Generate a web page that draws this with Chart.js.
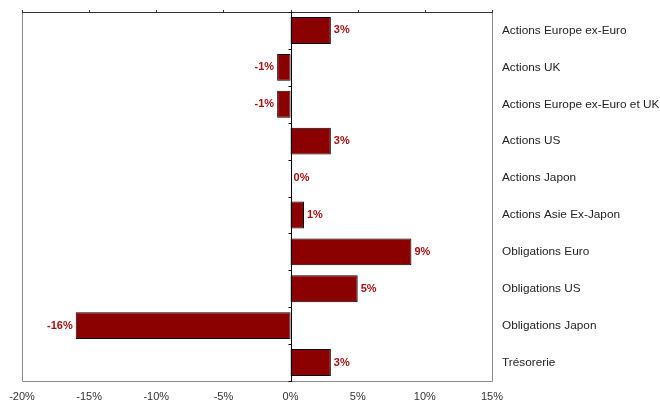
<!DOCTYPE html>
<html>
<head>
<meta charset="utf-8">
<script src="https://cdn.jsdelivr.net/npm/chart.js@4"></script>
<style>
  html, body { margin: 0; padding: 0; background: #fff; }
  #wrap { width: 660px; height: 406px; }
</style>
</head>
<body>
<div id="wrap"><canvas id="allocChart" width="660" height="406"></canvas></div>
<script>
const categories = [
  'Actions Europe ex-Euro',
  'Actions UK',
  'Actions Europe ex-Euro et UK',
  'Actions US',
  'Actions Japon',
  'Actions Asie Ex-Japon',
  'Obligations Euro',
  'Obligations US',
  'Obligations Japon',
  'Trésorerie'
];
const values = [3, -1, -1, 3, 0, 1, 9, 5, -16, 3];
const xTicks = [-20, -15, -10, -5, 0, 5, 10, 15];

// frame, zero line and small tick marks like the original
const frame = {
  id: 'frame',
  afterDatasetsDraw(chart) {
    const { ctx, chartArea: a, scales } = chart;
    const x = scales.x;
    ctx.save();
    ctx.lineWidth = 1;
    ctx.strokeStyle = '#8a8a8a';
    ctx.beginPath();
    ctx.moveTo(a.left + 0.5, a.top);
    ctx.lineTo(a.left + 0.5, a.bottom + 0.5);
    ctx.lineTo(a.right + 0.5, a.bottom + 0.5);
    ctx.lineTo(a.right + 0.5, a.top);
    ctx.stroke();

    // top axis line with upward ticks
    ctx.strokeStyle = '#333';
    ctx.beginPath();
    ctx.moveTo(a.left, a.top + 0.5);
    ctx.lineTo(a.right + 1, a.top + 0.5);
    xTicks.forEach(v => {
      const px = Math.round(x.getPixelForValue(v)) + 0.5;
      ctx.moveTo(px, a.top + 0.5);
      ctx.lineTo(px, a.top - 2);
    });
    ctx.stroke();

    // zero line with category ticks
    const zx = Math.round(x.getPixelForValue(0)) + 0.5;
    ctx.strokeStyle = '#000';
    ctx.beginPath();
    ctx.moveTo(zx, a.top);
    ctx.lineTo(zx, a.bottom + 1);
    const band = (a.bottom - a.top) / categories.length;
    for (let i = 0; i <= categories.length; i++) {
      const py = Math.round(a.top + i * band) + 0.5;
      ctx.moveTo(zx, py);
      ctx.lineTo(zx - 3, py);
    }
    ctx.stroke();
    ctx.restore();
  }
};

// value labels next to the bar ends
const valueLabels = {
  id: 'valueLabels',
  afterDatasetsDraw(chart) {
    const { ctx } = chart;
    const meta = chart.getDatasetMeta(0);
    ctx.save();
    ctx.font = 'bold 11px "Liberation Sans", Arial, sans-serif';
    ctx.fillStyle = '#a01010';
    ctx.textBaseline = 'middle';
    meta.data.forEach((bar, i) => {
      const v = values[i];
      if (v < 0) {
        ctx.textAlign = 'right';
        ctx.fillText(v + '%', bar.x - 3, bar.y);
      } else {
        ctx.textAlign = 'left';
        ctx.fillText(v + '%', bar.x + 3, bar.y);
      }
    });
    ctx.restore();
  }
};

new Chart(document.getElementById('allocChart'), {
  type: 'bar',
  data: {
    labels: categories,
    datasets: [{
      data: values,
      backgroundColor: '#8b0000',
      borderColor: '#000',
      borderWidth: 1,
      borderSkipped: false,
      barPercentage: 0.73,
      categoryPercentage: 1
    }]
  },
  options: {
    indexAxis: 'y',
    responsive: false,
    animation: false,
    layout: { padding: { top: 12, left: 22, right: 0, bottom: 0 } },
    plugins: {
      legend: { display: false },
      tooltip: { enabled: false }
    },
    scales: {
      x: {
        min: -20,
        max: 15,
        afterBuildTicks: s => { s.ticks = xTicks.map(v => ({ value: v })); },
        afterFit: s => { s.height = 25; },
        grid: { display: false, drawTicks: false },
        border: { display: false },
        ticks: {
          color: '#333',
          font: { size: 11, family: '"Liberation Sans", Arial, sans-serif' },
          padding: 9,
          callback: v => v + '%'
        }
      },
      y: {
        position: 'right',
        afterFit: s => { s.width = 168; },
        grid: { display: false, drawTicks: true, tickLength: 6 },
        border: { display: false },
        ticks: {
          color: '#222',
          font: { size: 11.8, family: '"Liberation Sans", Arial, sans-serif' },
          padding: 4
        }
      }
    }
  },
  plugins: [frame, valueLabels]
});
</script>
</body>
</html>
